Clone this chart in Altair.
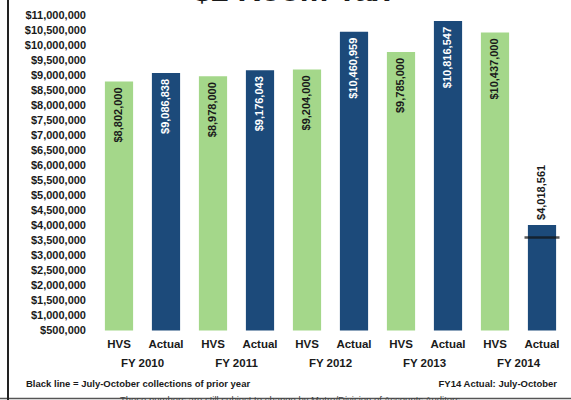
import altair as alt
import pandas as pd

years = ["FY 2010", "FY 2011", "FY 2012", "FY 2013", "FY 2014"]
hvs = [8802000, 8978000, 9204000, 9785000, 10437000]
actual = [9086838, 9176043, 10460959, 10816547, 4018561]
prior_jul_oct_fy14 = 3600000  # black line (estimated)
y_ticks = list(range(500000, 11000001, 500000))

FONT = "Liberation Sans"
GREEN = "#a4d78a"
NAVY = "#1c4a7a"
INK = "#1a1a1a"

rows = []
for yr, h, a in zip(years, hvs, actual):
    rows.append({"key": yr + "|HVS", "year": yr, "type": "HVS", "value": h})
    rows.append({"key": yr + "|Actual", "year": yr, "type": "Actual", "value": a})
df = pd.DataFrame(rows)
df["label"] = df["value"].map(lambda v: "${:,}".format(v))
df["inside"] = (df["value"] > 6000000).astype(int)
keys = list(df["key"])

x_axis = alt.Axis(labelExpr="split(datum.value, '|')[1]", labelAngle=0,
                  labelFont=FONT, labelFontSize=11.5, labelFontWeight="bold",
                  labelColor=INK, ticks=False, domain=False, labelPadding=8)
x_enc = alt.X("key:N", sort=keys, title=None,
              scale=alt.Scale(domain=keys, paddingInner=0.4, paddingOuter=0.2), axis=x_axis)
y_scale = alt.Scale(domain=[500000, 11000000], zero=False, nice=False)
y_axis = alt.Axis(values=y_ticks, format="$,.0f", labelFont=FONT, labelFontSize=11,
                  labelFontWeight="bold", labelColor=INK, ticks=False, domain=False,
                  grid=False, labelPadding=10, labelOverlap=False, labelBound=False)
y_enc = alt.Y("value:Q", scale=y_scale, title=None, axis=y_axis)

base = alt.Chart(df)

bars = base.mark_bar().encode(
    x=x_enc, y=y_enc, y2=alt.datum(500000),
    color=alt.Color("type:N", scale=alt.Scale(domain=["HVS", "Actual"], range=[GREEN, NAVY]), legend=None),
)

lab_in = base.transform_filter("datum.inside == 1").mark_text(
    angle=270, align="right", baseline="middle", dx=-6, font=FONT, fontSize=11, fontWeight="bold"
).encode(
    x=x_enc, y=y_enc,
    text="label:N",
    color=alt.condition("datum.type == 'HVS'", alt.value(INK), alt.value("#ffffff")),
)

lab_out = base.transform_filter("datum.inside == 0").mark_text(
    angle=270, align="left", baseline="middle", dx=5, font=FONT, fontSize=11, fontWeight="bold", color=INK
).encode(x=x_enc, y=y_enc, text="label:N")

line_df = pd.DataFrame({"key": ["FY 2014|Actual"], "value": [prior_jul_oct_fy14]})
black_line = alt.Chart(line_df).mark_tick(color="#111111", size=35, thickness=2.5).encode(
    x=x_enc, y=y_enc
)

fy_df = pd.DataFrame({"key": [y + "|HVS" for y in years], "year": years})
fy_labels = alt.Chart(fy_df).mark_text(
    font=FONT, fontSize=11.5, fontWeight="bold", color=INK, baseline="middle", xOffset=23.5
).encode(x=x_enc, y=alt.value(348.5), text="year:N")

title = alt.Chart(pd.DataFrame({"t": ["$2 Room Tax"]})).mark_text(
    font=FONT, fontSize=32, fontWeight="bold", color=INK, baseline="alphabetic", align="center"
).encode(x=alt.value(196), y=alt.value(-15), text="t:N")

notes = ["Black line = July-October collections of prior year", "FY14 Actual: July-October",
         "These numbers are still subject to change by Metro/Division of Accounts Auditors"]
note1 = alt.Chart(pd.DataFrame({"t": [notes[0]]})).mark_text(
    font=FONT, fontSize=9.5, fontWeight="bold", color=INK, align="left", baseline="middle"
).encode(x=alt.value(-69.5), y=alt.value(368.5), text="t:N")
note2 = alt.Chart(pd.DataFrame({"t": [notes[1]]})).mark_text(
    font=FONT, fontSize=9.5, fontWeight="bold", color=INK, align="right", baseline="middle"
).encode(x=alt.value(461.5), y=alt.value(368.5), text="t:N")
note3 = alt.Chart(pd.DataFrame({"t": [notes[2]]})).mark_text(
    font=FONT, fontSize=9.5, color="#444444", align="center", baseline="top"
).encode(x=alt.value(194.5), y=alt.value(379.5), text="t:N")

left_border = alt.Chart(pd.DataFrame({"a": [0]})).mark_rule(color="#222222", strokeWidth=2).encode(
    x=alt.value(-87.5), y=alt.value(-16), y2=alt.value(385))
bottom_border = alt.Chart(pd.DataFrame({"a": [0]})).mark_rule(color="#555555", strokeWidth=1.5).encode(
    x=alt.value(-96), x2=alt.value(476), y=alt.value(383))

chart = alt.layer(
    bars, lab_in, lab_out, black_line, fy_labels, title, note1, note2, bottom_border, note3, left_border
).properties(
    width=470, height=315,
    autosize=alt.AutoSizeParams(type="none"),
    padding={"left": 95.5, "top": 15.5, "right": 5.5, "bottom": 69.5},
    background="white",
).configure_view(stroke=None)

chart.save("out.html", embed_options={"renderer": "svg", "actions": False})
